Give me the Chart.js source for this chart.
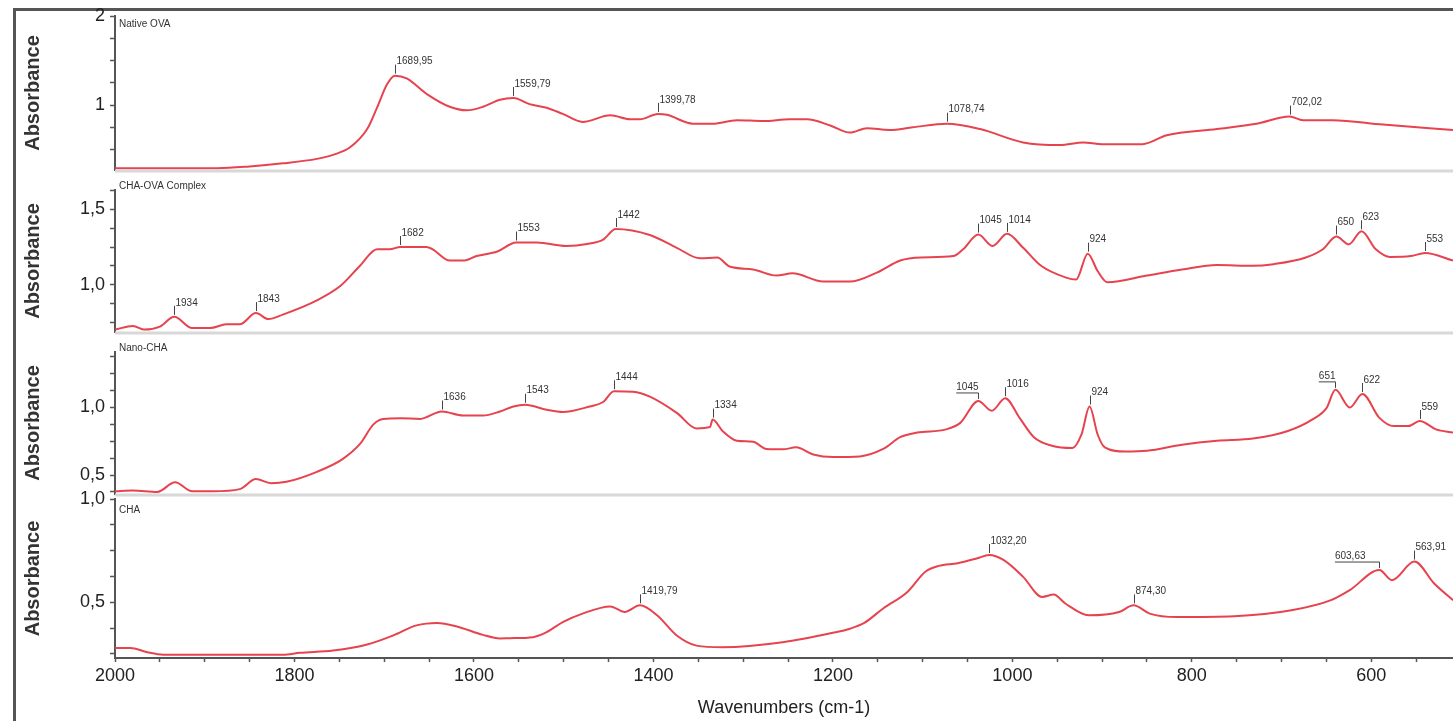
<!doctype html>
<html lang="en">
<head>
<meta charset="utf-8">
<title>FTIR spectra</title>
<script src="https://cdn.jsdelivr.net/npm/chart.js"></script>
<style>
  html, body { margin: 0; padding: 0; background: #fff; overflow: hidden; width: 1453px; height: 721px; }
  #frame { position: absolute; left: 13px; top: 8px; width: 1600px; height: 800px; border-left: 3px solid #555; border-top: 3px solid #555; }
  .panel { position: absolute; left: 0; width: 1453px; }
</style>
</head>
<body>
<div id="frame"></div>
<div class="panel" id="box_p1"><canvas id="p1"></canvas></div>
<div class="panel" id="box_p2"><canvas id="p2"></canvas></div>
<div class="panel" id="box_p3"><canvas id="p3"></canvas></div>
<div class="panel" id="box_p4"><canvas id="p4"></canvas></div>
<script>
// spectra (wavenumber cm-1 -> absorbance)
const nativeWn  = [2000, 1950, 1900, 1886, 1850, 1813, 1775, 1757, 1738, 1719, 1708, 1697, 1688, 1675, 1652, 1627, 1608, 1590, 1571, 1556, 1538, 1519, 1501, 1479, 1448, 1426, 1415, 1395, 1385, 1356, 1334, 1307, 1278, 1248, 1229, 1203, 1181, 1162, 1137, 1111, 1073, 1036, 988, 947, 921, 900, 855, 828, 772, 728, 691, 676, 643, 587, 509];
const nativeAbs = [0.29, 0.29, 0.29, 0.29, 0.31, 0.345, 0.395, 0.44, 0.525, 0.73, 0.97, 1.23, 1.33, 1.30, 1.12, 0.98, 0.94, 0.98, 1.06, 1.08, 1.01, 0.97, 0.90, 0.81, 0.885, 0.84, 0.84, 0.90, 0.89, 0.79, 0.79, 0.83, 0.82, 0.84, 0.84, 0.77, 0.69, 0.74, 0.72, 0.75, 0.79, 0.73, 0.58, 0.55, 0.58, 0.56, 0.56, 0.66, 0.73, 0.79, 0.87, 0.83, 0.83, 0.78, 0.72];

const complexWn  = [2000, 1980, 1967, 1950, 1934, 1914, 1894, 1876, 1861, 1843, 1829, 1813, 1775, 1749, 1727, 1708, 1694, 1682, 1653, 1646, 1627, 1612, 1597, 1574, 1553, 1530, 1497, 1474, 1456, 1442, 1404, 1374, 1348, 1329, 1315, 1289, 1263, 1245, 1211, 1181, 1151, 1125, 1102, 1066, 1055, 1038, 1022, 1006, 988, 968, 941, 929, 916, 905, 894, 850, 811, 772, 732, 709, 673, 654, 639, 625, 611, 595, 579, 556, 540, 509];
const complexAbs = [0.70, 0.724, 0.70, 0.72, 0.785, 0.71, 0.71, 0.735, 0.735, 0.81, 0.77, 0.80, 0.895, 0.99, 1.125, 1.235, 1.235, 1.25, 1.25, 1.235, 1.16, 1.16, 1.19, 1.22, 1.28, 1.28, 1.257, 1.27, 1.30, 1.37, 1.33, 1.245, 1.175, 1.18, 1.12, 1.10, 1.06, 1.075, 1.02, 1.02, 1.08, 1.16, 1.18, 1.19, 1.235, 1.333, 1.257, 1.338, 1.245, 1.125, 1.048, 1.033, 1.206, 1.09, 1.015, 1.06, 1.10, 1.13, 1.125, 1.136, 1.18, 1.235, 1.32, 1.268, 1.355, 1.235, 1.184, 1.19, 1.21, 1.16];

const nanoWn  = [2000, 1980, 1953, 1933, 1914, 1891, 1861, 1843, 1826, 1809, 1775, 1746, 1727, 1712, 1701, 1682, 1660, 1636, 1612, 1590, 1571, 1556, 1543, 1519, 1501, 1471, 1456, 1444, 1423, 1404, 1374, 1352, 1337, 1334, 1323, 1307, 1289, 1274, 1256, 1241, 1222, 1200, 1170, 1144, 1125, 1106, 1074, 1058, 1038, 1023, 1008, 992, 976, 956, 933, 923, 914, 905, 897, 874, 850, 811, 772, 732, 693, 666, 650, 640, 624, 610, 591, 575, 559, 546, 528, 509];
const nanoAbs = [0.38, 0.386, 0.375, 0.447, 0.38, 0.38, 0.396, 0.47, 0.44, 0.45, 0.524, 0.62, 0.73, 0.875, 0.915, 0.92, 0.915, 0.97, 0.94, 0.94, 0.97, 1.007, 1.02, 0.983, 0.966, 1.007, 1.04, 1.12, 1.116, 1.08, 0.96, 0.845, 0.855, 0.91, 0.826, 0.754, 0.746, 0.693, 0.69, 0.705, 0.652, 0.633, 0.638, 0.693, 0.78, 0.814, 0.838, 0.886, 1.048, 0.976, 1.068, 0.923, 0.78, 0.717, 0.70, 0.80, 1.007, 0.80, 0.705, 0.674, 0.68, 0.725, 0.754, 0.77, 0.826, 0.91, 0.995, 1.13, 1.0, 1.10, 0.923, 0.862, 0.862, 0.90, 0.838, 0.815];

const chaWn  = [2000, 1983, 1964, 1946, 1900, 1813, 1794, 1757, 1719, 1690, 1664, 1641, 1619, 1590, 1571, 1560, 1534, 1519, 1501, 1479, 1448, 1432, 1415, 1396, 1374, 1352, 1323, 1256, 1200, 1181, 1165, 1144, 1117, 1097, 1082, 1061, 1039, 1026, 1010, 988, 967, 954, 941, 915, 881, 865, 847, 817, 753, 689, 645, 624, 591, 577, 552, 530, 509];
const chaAbs = [0.279, 0.279, 0.258, 0.246, 0.246, 0.246, 0.255, 0.266, 0.295, 0.339, 0.388, 0.40, 0.383, 0.342, 0.325, 0.326, 0.331, 0.355, 0.404, 0.445, 0.48, 0.453, 0.485, 0.437, 0.339, 0.29, 0.282, 0.306, 0.352, 0.372, 0.40, 0.47, 0.55, 0.648, 0.676, 0.689, 0.713, 0.729, 0.705, 0.623, 0.526, 0.537, 0.494, 0.437, 0.453, 0.485, 0.445, 0.428, 0.432, 0.461, 0.51, 0.559, 0.656, 0.607, 0.697, 0.591, 0.51];

// labelled peaks: where they sit on the drawn axis, and the printed label
const nativePeaks   = [1688, 1556, 1395, 1073, 691];
const nativeText    = ['1689,95', '1559,79', '1399,78', '1078,74', '702,02'];
const complexPeaks  = [1934, 1843, 1682, 1553, 1442, 1038, 1006, 916, 639, 611, 540];
const complexText   = ['1934', '1843', '1682', '1553', '1442', '1045', '1014', '924', '650', '623', '553'];
const nanoPeaks     = [1636, 1543, 1444, 1334, 1038, 1008, 914, 640, 610, 546];
const nanoText      = ['1636', '1543', '1444', '1334', '1045', '1016', '924', '651', '622', '559'];
const chaPeaks      = [1415, 1026, 865, 591, 552];
const chaText       = ['1419,79', '1032,20', '874,30', '603,63', '563,91'];

// axis ticks
const xTickLabels   = [2000, 1800, 1600, 1400, 1200, 1000, 800, 600];
const nativeTicks   = [1, 2];
const complexTicks  = [1.0, 1.5];
const nanoTicks     = [0.5, 1.0];
const chaTicks      = [0.5, 1.0];

const LINE = '#e6434f';
const FONT = "'Liberation Sans', Arial, sans-serif";

// labels drawn to the left of their peak (with a leader line)
const leftLabels = { p3: ['1045', '651'], p4: ['603,63'] };

const panels = [
  { id: 'p1', name: 'Native OVA', wn: nativeWn, abs: nativeAbs, peaks: nativePeaks, text: nativeText, ticks: nativeTicks, dec: 0,
    top: 16, bottom: 170, min: 0.27, max: 2.0, first: 0.5, step: 0.25, nameY: 24 },
  { id: 'p2', name: 'CHA-OVA Complex', wn: complexWn, abs: complexAbs, peaks: complexPeaks, text: complexText, ticks: complexTicks, dec: 1,
    top: 190, bottom: 332, min: 0.684, max: 1.63, first: 0.75, step: 0.125, nameY: 186 },
  { id: 'p3', name: 'Nano-CHA', wn: nanoWn, abs: nanoAbs, peaks: nanoPeaks, text: nanoText, ticks: nanoTicks, dec: 1,
    top: 352, bottom: 494, min: 0.36, max: 1.41, first: 0.375, step: 0.125, nameY: 348 },
  { id: 'p4', name: 'CHA', wn: chaWn, abs: chaAbs, peaks: chaPeaks, text: chaText, ticks: chaTicks, dec: 1,
    top: 499, bottom: 658, min: 0.23, max: 1.0, first: 0.25, step: 0.125, nameY: 510, last: true }
];

function valueAt(wn, abs, x) {
  for (let i = 0; i < wn.length - 1; i++) {
    if ((wn[i] - x) * (wn[i + 1] - x) <= 0) {
      const t = (x - wn[i]) / (wn[i + 1] - wn[i]);
      return abs[i] + t * (abs[i + 1] - abs[i]);
    }
  }
  return abs[abs.length - 1];
}

function makePanel(p) {
  const padTop = 14;
  const canvasTop = p.top - padTop;
  const canvasBottom = p.last ? 721 : p.bottom + 4;
  const box = document.getElementById('box_' + p.id);
  box.style.top = canvasTop + 'px';
  box.style.height = (canvasBottom - canvasTop) + 'px';

  const decor = {
    id: 'decor',
    afterDatasetsDraw(chart) {
      const { ctx, chartArea: a, scales: { x, y } } = chart;
      ctx.save();
      if (!p.last) {
        ctx.strokeStyle = '#d8d8d8';
        ctx.lineWidth = 3;
        ctx.beginPath();
        ctx.moveTo(a.left, a.bottom + 1);
        ctx.lineTo(a.right, a.bottom + 1);
        ctx.stroke();
      }
      ctx.fillStyle = '#333';
      ctx.font = '10px ' + FONT;
      ctx.textBaseline = 'middle';
      ctx.textAlign = 'left';
      ctx.fillText(p.name, a.left + 4, p.nameY - canvasTop);

      ctx.strokeStyle = '#444';
      ctx.lineWidth = 1;
      ctx.textBaseline = 'bottom';
      const lefts = leftLabels[p.id] || [];
      p.peaks.forEach((pk, i) => {
        const px = Math.round(x.getPixelForValue(pk)) + 0.5;
        const py = y.getPixelForValue(valueAt(p.wn, p.abs, pk)) - 2;
        const t = p.text[i];
        ctx.beginPath();
        if (lefts.includes(t)) {
          const w = ctx.measureText(t).width;
          const gap = p.id === 'p4' ? 14 : 0;
          ctx.moveTo(px, py);
          ctx.lineTo(px, py - 6);
          ctx.lineTo(px - w - gap, py - 6);
          ctx.stroke();
          ctx.fillText(t, px - w - gap, py - 7);
        } else {
          ctx.moveTo(px, py);
          ctx.lineTo(px, py - 9);
          ctx.stroke();
          ctx.fillText(t, px + 1, py - 7);
        }
      });
      ctx.restore();
    }
  };

  return new Chart(document.getElementById(p.id), {
    type: 'line',
    data: {
      datasets: [{
        data: p.wn.map((w, i) => ({ x: w, y: p.abs[i] })),
        borderColor: LINE,
        borderWidth: 2,
        pointRadius: 0,
        cubicInterpolationMode: 'monotone',
        fill: false
      }]
    },
    options: {
      responsive: true,
      maintainAspectRatio: false,
      animation: false,
      events: [],
      layout: { padding: { top: padTop, bottom: p.last ? 0 : 4, left: 0, right: 0 } },
      plugins: { legend: { display: false }, tooltip: { enabled: false } },
      scales: {
        x: {
          type: 'linear',
          min: 509,
          max: 2000,
          reverse: true,
          display: !!p.last,
          afterBuildTicks: s => {
            const t = [];
            for (let v = 550; v <= 2000; v += 50) t.push({ value: v });
            s.ticks = t;
          },
          afterFit: s => { if (p.last) s.height = 63; },
          border: { display: true, color: '#555', width: 2 },
          grid: { drawOnChartArea: false, drawTicks: true, tickLength: 4, tickColor: '#555', tickWidth: 1.5 },
          ticks: {
            autoSkip: false, maxRotation: 0, padding: 3, color: '#222',
            font: { size: 18, family: FONT },
            callback: v => xTickLabels.includes(v) ? String(v) : ''
          },
          title: {
            display: true, text: 'Wavenumbers (cm-1)', color: '#222',
            font: { size: 18, family: FONT }, padding: { top: 2, bottom: 2 }
          }
        },
        y: {
          type: 'linear',
          min: p.min,
          max: p.max,
          afterBuildTicks: s => {
            const t = [];
            for (let v = p.first; v <= p.max + 1e-6; v += p.step) t.push({ value: +v.toFixed(4) });
            s.ticks = t;
          },
          afterFit: s => { s.width = 115; s.paddingTop = 0; s.paddingBottom = 0; },
          border: { display: true, color: '#555', width: 2 },
          grid: { drawOnChartArea: false, drawTicks: true, tickLength: 5, tickColor: '#555', tickWidth: 1.5 },
          ticks: {
            autoSkip: false, padding: 5, color: '#222',
            font: { size: 18, family: FONT },
            callback: v => p.ticks.includes(v) ? (p.dec ? v.toFixed(1).replace('.', ',') : String(v)) : ''
          },
          title: {
            display: true, text: 'Absorbance', color: '#333',
            font: { size: 20, weight: 'bold', family: FONT }, padding: { top: 21, bottom: 0 }
          }
        }
      }
    },
    plugins: [decor]
  });
}

panels.forEach(makePanel);
</script>
</body>
</html>
